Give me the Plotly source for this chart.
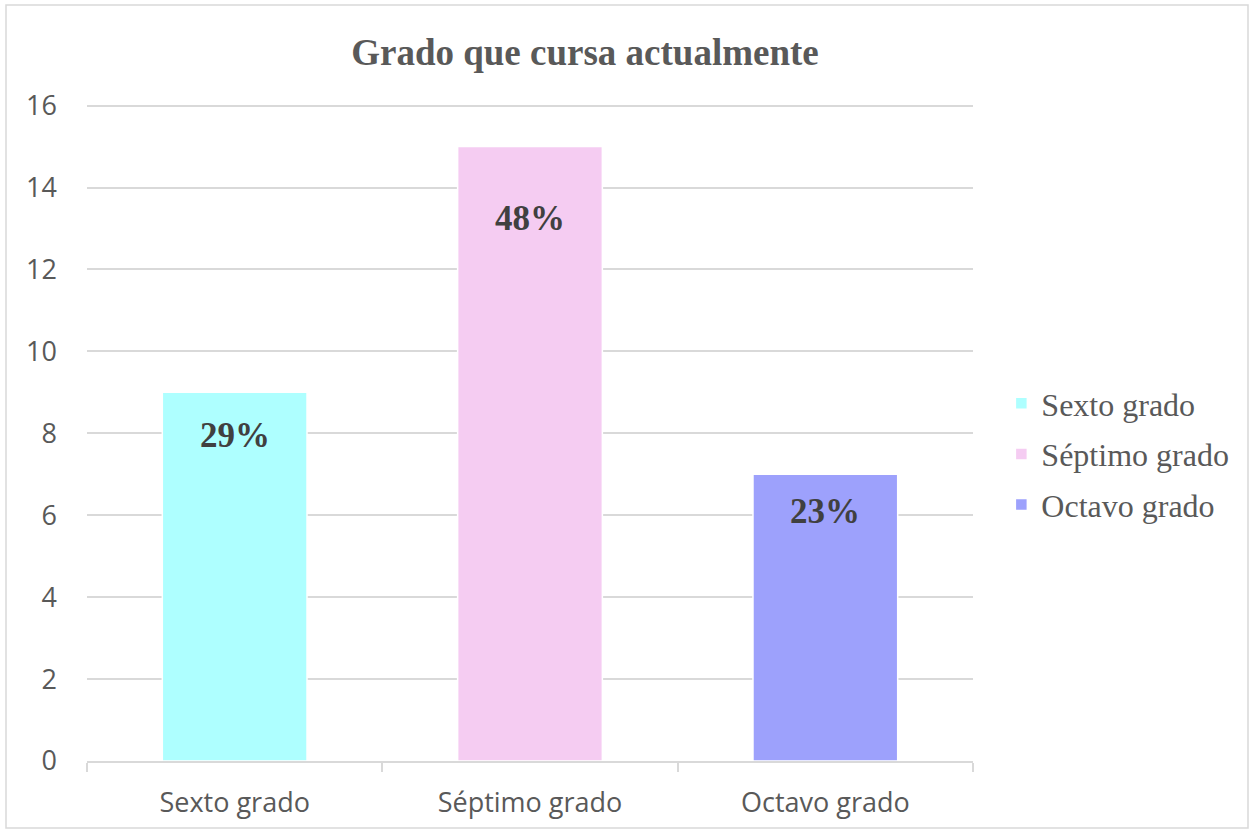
import plotly.graph_objects as go

categories = ["Sexto grado", "Séptimo grado", "Octavo grado"]
values = [9, 15, 7]
percent_labels = ["29%", "48%", "23%"]
colors = ["#AEFFFF", "#F5CCF2", "#9DA1FC"]
y_ticks = [0, 2, 4, 6, 8, 10, 12, 14, 16]
label_shifts = [-22, -50, -16]  # pixel offset of each data label below its bar top

fig = go.Figure()
for i, (cat, val, col) in enumerate(zip(categories, values, colors)):
    fig.add_trace(go.Bar(
        x=[cat], y=[val], name=cat, legendgroup=f"g{i}",
        marker=dict(color=col, line=dict(color="white", width=1.5)),
        width=0.49,
    ))

for cat, val, lab, sh in zip(categories, values, percent_labels, label_shifts):
    fig.add_annotation(
        x=cat, y=val, text=f"<b>{lab}</b>", showarrow=False,
        yanchor="top", yshift=sh,
        font=dict(family="Liberation Serif", size=35, color="#404040"),
    )

L, R, T, B = 87, 280, 104, 72
W, H = 1253, 833
pw, ph = W - L - R, H - T - B
fig.add_shape(
    type="rect", xref="paper", yref="paper",
    x0=(6 - L) / pw, x1=(W - 5 - L) / pw,
    y0=(H - B - (H - 5)) / ph, y1=(H - B - 5) / ph,
    line=dict(color="#d9d9d9", width=1.5), fillcolor="rgba(0,0,0,0)", layer="below",
)

fig.update_layout(
    width=W, height=H,
    margin=dict(l=L, r=R, t=T, b=B),
    paper_bgcolor="white", plot_bgcolor="white",
    barmode="overlay",
    title=dict(
        text="<b>Grado que cursa actualmente</b>",
        x=(585 - L) / pw, xref="paper", xanchor="center",
        y=1 - 52 / H, yanchor="middle",
        font=dict(family="Liberation Serif", size=37, color="#595959"),
    ),
    legend=dict(
        x=1.032, y=(H - B - 454) / ph, xanchor="left", yanchor="middle",
        font=dict(family="Liberation Serif", size=32, color="#595959"),
        itemwidth=30, tracegroupgap=6,
    ),
    xaxis=dict(
        showline=True, linecolor="#d9d9d9", linewidth=1.5,
        ticks="outside", tickson="boundaries", ticklen=9, tickcolor="#d9d9d9", tickwidth=1.5,
        tickfont=dict(family="Open Sans", size=27, color="#595959"),
        ticklabelstandoff=17,
        showgrid=False,
    ),
    yaxis=dict(
        range=[0, 16.04], tickvals=y_ticks, ticktext=[str(v) for v in y_ticks],
        showgrid=True, gridcolor="#d9d9d9", gridwidth=1.5,
        zeroline=False, showline=False,
        tickfont=dict(family="Open Sans", size=27, color="#595959"),
        ticklabelstandoff=29,
    ),
)

fig.write_html("out.html", config={"displayModeBar": False},
               post_script="document.body.style.margin='0px';")
